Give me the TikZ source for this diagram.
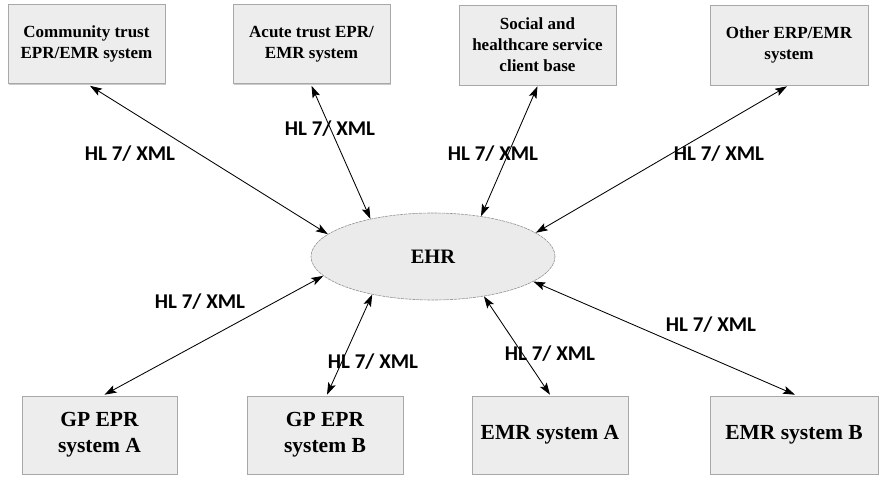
\documentclass[tikz,border=0pt]{standalone}
\usepackage{fontspec}
\setmainfont{Liberation Serif}
\newfontfamily\lblfont{Carlito}
\usetikzlibrary{arrows.meta,shapes.geometric,shadows}
\definecolor{boxfill}{HTML}{EDEDED}
\definecolor{boxline}{HTML}{A8A8A8}
\definecolor{ellfill}{HTML}{EBEBEB}
\tikzset{
  sysbox/.style={draw=boxline, fill=boxfill, line width=0.6pt, inner sep=0pt, align=center,
    font=\bfseries\fontsize{17}{21}\selectfont,
    drop shadow={shadow xshift=1.2pt, shadow yshift=-1.2pt, fill=black!35, opacity=0.6}},
  topbox/.style={sysbox, minimum width=157pt, minimum height=79pt},
  botbox/.style={sysbox, minimum width=156pt, minimum height=78pt, font=\bfseries\fontsize{21.5}{26}\selectfont},
  ehrnode/.style={ellipse, draw=gray!85, fill=ellfill, line width=0.6pt, dash pattern=on 3pt off 0.8pt,
    minimum width=244pt, minimum height=87pt, inner sep=0pt, font=\bfseries\fontsize{20.5}{24}\selectfont},
  link/.style={{Stealth[length=12pt,width=8pt,inset=2.5pt]}-{Stealth[length=12pt,width=8pt,inset=2.5pt]}, line width=0.85pt, black},
  proto/.style={font=\lblfont\bfseries\fontsize{21}{24}\selectfont, inner sep=0pt}
}
\begin{document}
\begin{tikzpicture}[x=1pt,y=-1pt]
\useasboundingbox (0,0) rectangle (881,477);
% top systems
\node[topbox] (b1) at (86.5,44) {Community trust\\EPR/EMR system};
\node[topbox] (b2) at (311.5,44) {Acute trust EPR/\\EMR system};
\node[topbox, minimum height=80pt] (b3) at (537.5,45) {Social and\\healthcare service\\client base};
\node[topbox, minimum width=158pt, minimum height=80pt] (b4) at (789,45) {Other ERP/EMR\\system};
% bottom systems
\node[botbox, minimum width=155pt] (c1) at (99.5,435) {GP EPR\\system A};
\node[botbox] (c2) at (325,435) {GP EPR\\system B};
\node[botbox] (c3) at (550,435) {EMR system A};
\node[botbox, minimum width=168pt] (c4) at (794,435) {EMR system B};
% centre
\node[ehrnode] (ehr) at (433,256.5) {EHR};
% connectors
\draw[link] ([xshift=3.5pt,yshift=-2pt]b1.south) -- (ehr.168.7);
\draw[link] ([yshift=-2pt]b2.south) -- (ehr.149.7);
\draw[link] ([yshift=-1pt]b3.south) -- (ehr.40.8);
\draw[link] ([xshift=-2pt,yshift=-1pt]b4.south) -- (ehr.13.5);
\draw[link] ([xshift=5pt,yshift=1pt]c1.north) -- (ehr.190.5);
\draw[link] ([xshift=2pt,yshift=1pt]c2.north) -- (ehr.212.2);
\draw[link] ([yshift=1pt]c3.north) -- (ehr.322.4);
\draw[link] ([xshift=1pt,yshift=1pt]c4.north) -- (ehr.346.2);
% labels
\node[proto] (l1) at (130,154) {HL 7/ XML};
\node[proto] (l2) at (330,129) {HL 7/ XML};
\node[proto] (l3) at (493,154) {HL 7/ XML};
\node[proto] (l4) at (719,154) {HL 7/ XML};
\node[proto] (l5) at (200,302) {HL 7/ XML};
\node[proto] (l6) at (373,362) {HL 7/ XML};
\node[proto] (l7) at (550,354) {HL 7/ XML};
\node[proto] (l8) at (711,325) {HL 7/ XML};
\end{tikzpicture}
\end{document}
